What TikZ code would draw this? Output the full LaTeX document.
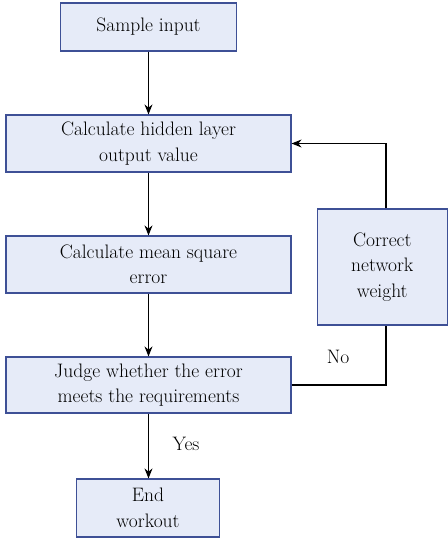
\documentclass[tikz,border=0pt]{standalone}
\usetikzlibrary{arrows.meta}
\definecolor{boxfill}{RGB}{230,235,248}
\definecolor{boxline}{RGB}{62,80,150}
\begin{document}
\begin{tikzpicture}[x=1pt, y=-1pt,
    stepbox/.style={draw=boxline, fill=boxfill, line width=1.2pt, align=center,
      inner sep=0pt, font=\fontsize{19.5}{25.5}\selectfont},
    arr/.style={-{Stealth[length=10pt, width=8pt]}, line width=1.3pt},
    lbl/.style={font=\fontsize{19.5}{25.5}\selectfont}]
  \useasboundingbox (0,0) rectangle (448,542);
  \node[stepbox, minimum width=176pt, minimum height=48pt] (input) at (148.5,27) {Sample input};
  \node[stepbox, minimum width=285pt, minimum height=57pt] (hidden) at (148.5,143.5) {Calculate hidden layer\\output value};
  \node[stepbox, minimum width=285pt, minimum height=57pt] (mse) at (148.5,264.5) {Calculate mean square\\error};
  \node[stepbox, minimum width=285pt, minimum height=56pt] (judge) at (148.5,385) {Judge whether the error\\meets the requirements};
  \node[stepbox, minimum width=143pt, minimum height=58pt] (endw) at (148,508) {End\\workout};
  \node[stepbox, minimum width=130pt, minimum height=116pt] (correct) at (382.3,267) {Correct\\network\\weight};
  \draw[arr] (input) -- (hidden);
  \draw[arr] (hidden) -- (mse);
  \draw[arr] (mse) -- (judge);
  \draw[arr] (judge.south) -- (judge.south |- endw.north);
  \draw[line width=1.3pt] (judge.east) -| ([xshift=3.7pt]correct.south);
  \draw[arr] ([xshift=3.7pt]correct.north) |- (hidden.east);
  \node[lbl] (no) at (338,357) {No};
  \node[lbl] (yes) at (186,444) {Yes};
\end{tikzpicture}
\end{document}
